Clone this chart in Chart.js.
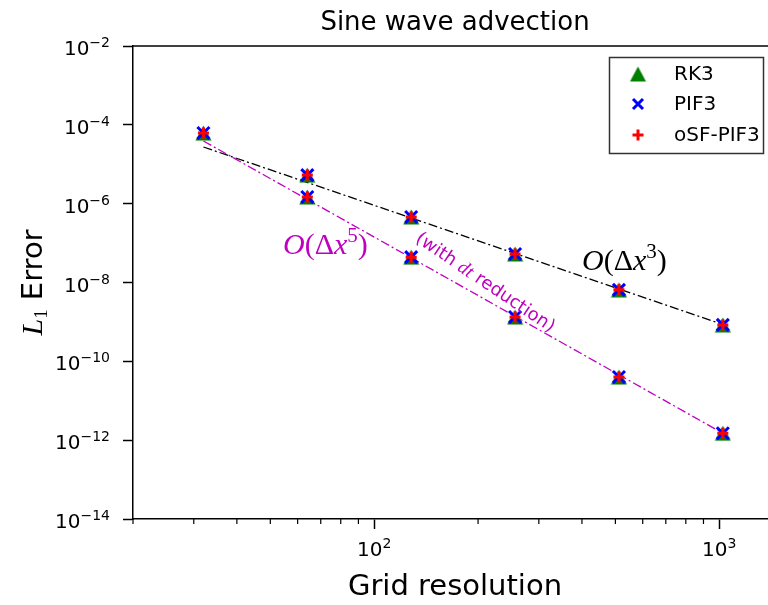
<!DOCTYPE html>
<html>
<head>
<meta charset="utf-8">
<script src="https://cdn.jsdelivr.net/npm/chart.js@4.4.0/dist/chart.umd.min.js"></script>
<style>
    html, body { margin: 0; padding: 0; background: #fff; overflow: hidden; }
    #wrap { width: 768px; height: 605px; overflow: hidden; position: relative; }
    #myChart { display: block; }
</style>
</head>
<body>
<div id="wrap"><canvas id="myChart" width="778" height="605"></canvas></div>
<script>
// grid sizes and L1 errors
const gridSizes = [32, 64, 128, 256, 512, 1024];
const gridReduced = [64, 128, 256, 512, 1024];

// without dt reduction (3rd order branch)
const rk3Plain  = [6.2e-5, 5.3e-6, 4.6e-7, 5.3e-8, 6.5e-9, 8.4e-10];
const pif3Plain = [6.2e-5, 5.3e-6, 4.6e-7, 5.3e-8, 6.5e-9, 8.4e-10];
const osfPlain  = [6.2e-5, 5.3e-6, 4.6e-7, 5.3e-8, 6.5e-9, 8.4e-10];

// with dt reduction (5th order branch)
const rk3Reduced  = [1.48e-6, 4.4e-8, 1.33e-9, 4.0e-11, 1.5e-12];
const pif3Reduced = [1.48e-6, 4.4e-8, 1.33e-9, 4.0e-11, 1.5e-12];
const osfReduced  = [1.48e-6, 4.4e-8, 1.33e-9, 4.0e-11, 1.5e-12];

// reference slope lines
const refX = [32, 1024];
const refOrder3 = [2.74e-5, 8.6e-10];
const refOrder5 = [3.9e-5, 1.5e-12];

const xMajorTicks = [100, 1000];
const xMinorTicks = [20, 30, 40, 50, 60, 70, 80, 90, 200, 300, 400, 500, 600, 700, 800, 900];
const yTickValues = [1e-2, 1e-4, 1e-6, 1e-8, 1e-10, 1e-12, 1e-14];

const toPts = (xs, ys) => xs.map((x, i) => ({ x: x, y: ys[i] }));

function triangleMarker() {
    const c = document.createElement('canvas');
    c.width = 17;
    c.height = 16;
    const g = c.getContext('2d');
    g.fillStyle = '#008000';
    g.beginPath();
    g.moveTo(8.5, 0.5);
    g.lineTo(16.5, 15.5);
    g.lineTo(0.5, 15.5);
    g.closePath();
    g.fill();
    return c;
}
const tri = triangleMarker();

// draws a list of text pieces one after another
function drawParts(g, x, y, parts, align) {
    let w = 0;
    parts.forEach(p => { g.font = p.font; p.w = g.measureText(p.text).width; w += p.w; });
    let cx = x;
    if (align === 'center') cx = x - w / 2;
    if (align === 'right') cx = x - w;
    g.textAlign = 'left';
    parts.forEach(p => {
        g.font = p.font;
        g.fillText(p.text, cx, y + (p.dy || 0));
        cx += p.w;
    });
}

function powParts(v) {
    const e = Math.round(Math.log10(v));
    const exp = (e < 0 ? '\u2212' : '') + Math.abs(e);
    return [
        { text: '10', font: '20px "DejaVu Sans"' },
        { text: exp, font: '14px "DejaVu Sans"', dy: -8 }
    ];
}

const framePlugin = {
    id: 'frame',
    afterDraw(chart) {
        const g = chart.ctx, a = chart.chartArea;
        const xs = chart.scales.x, ys = chart.scales.y;
        g.save();
        g.strokeStyle = '#000';
        g.fillStyle = '#000';
        g.textBaseline = 'alphabetic';

        // top spine
        g.lineWidth = 1.5;
        g.beginPath();
        g.moveTo(a.left, a.top);
        g.lineTo(a.right, a.top);
        g.stroke();

        // minor x ticks
        g.lineWidth = 1.2;
        xMinorTicks.forEach(v => {
            const px = xs.getPixelForValue(v);
            g.beginPath();
            g.moveTo(px, a.bottom);
            g.lineTo(px, a.bottom + 5);
            g.stroke();
        });

        // tick labels
        yTickValues.forEach(v => {
            drawParts(g, 110, ys.getPixelForValue(v) + 9, powParts(v), 'right');
        });
        xMajorTicks.forEach(v => {
            drawParts(g, xs.getPixelForValue(v), 556, powParts(v), 'center');
        });

        // title and axis titles
        const midX = (a.left + a.right) / 2;
        g.textAlign = 'center';
        g.font = '26px "DejaVu Sans"';
        g.fillText('Sine wave advection', midX, 30);
        g.font = '29px "DejaVu Sans"';
        g.fillText('Grid resolution', midX, 595);

        g.save();
        g.translate(42, (a.top + a.bottom) / 2);
        g.rotate(-Math.PI / 2);
        drawParts(g, 0, 0, [
            { text: 'L', font: 'italic 30px "Liberation Serif"' },
            { text: '1', font: '19px "Liberation Serif"', dy: 5 },
            { text: ' Error', font: '29px "DejaVu Sans"' }
        ], 'center');
        g.restore();

        // slope annotations
        g.fillStyle = '#bf00bf';
        drawParts(g, 283, 254, [
            { text: 'O', font: 'italic 30px "Liberation Serif"' },
            { text: '(\u0394', font: '30px "Liberation Serif"' },
            { text: 'x', font: 'italic 30px "Liberation Serif"' },
            { text: '5', font: '21px "Liberation Serif"', dy: -12 },
            { text: ')', font: '30px "Liberation Serif"' }
        ], 'left');

        g.save();
        g.translate(485, 283);
        g.rotate(34 * Math.PI / 180);
        g.textBaseline = 'middle';
        drawParts(g, 0, 0, [
            { text: '(with ', font: '18px "DejaVu Sans"' },
            { text: 'dt', font: 'italic 19px "Liberation Serif"' },
            { text: ' reduction)', font: '18px "DejaVu Sans"' }
        ], 'center');
        g.restore();

        g.fillStyle = '#000';
        g.textBaseline = 'alphabetic';
        drawParts(g, 582, 270, [
            { text: 'O', font: 'italic 30px "Liberation Serif"' },
            { text: '(\u0394', font: '30px "Liberation Serif"' },
            { text: 'x', font: 'italic 30px "Liberation Serif"' },
            { text: '3', font: '21px "Liberation Serif"', dy: -12 },
            { text: ')', font: '30px "Liberation Serif"' }
        ], 'left');

        // legend
        g.fillStyle = '#fff';
        g.fillRect(609, 57, 154, 96);
        g.strokeStyle = '#333';
        g.lineWidth = 1.5;
        g.strokeRect(609.5, 57.5, 154, 96);
        const rows = [74, 104, 135];
        g.drawImage(tri, 638 - 8.5, rows[0] - 8);
        g.lineWidth = 3;
        g.strokeStyle = '#0000ff';
        g.beginPath();
        g.moveTo(633, rows[1] - 5); g.lineTo(643, rows[1] + 5);
        g.moveTo(633, rows[1] + 5); g.lineTo(643, rows[1] - 5);
        g.stroke();
        g.strokeStyle = '#ff0000';
        g.beginPath();
        g.moveTo(632.5, rows[2]); g.lineTo(643.5, rows[2]);
        g.moveTo(638, rows[2] - 5.5); g.lineTo(638, rows[2] + 5.5);
        g.stroke();
        g.fillStyle = '#000';
        g.textAlign = 'left';
        g.textBaseline = 'middle';
        g.font = '20px "DejaVu Sans"';
        ['RK3', 'PIF3', 'oSF-PIF3'].forEach((t, i) => g.fillText(t, 674, rows[i] + 1));

        g.restore();
    }
};

const ctx = document.getElementById('myChart').getContext('2d');
const chart = new Chart(ctx, {
    type: 'scatter',
    data: {
        datasets: [
            {
                label: 'O3',
                data: toPts(refX, refOrder3),
                showLine: true,
                borderColor: '#000',
                borderWidth: 1.3,
                borderDash: [9, 3, 2, 3],
                pointRadius: 0,
                order: 5
            },
            {
                label: 'O5',
                data: toPts(refX, refOrder5),
                showLine: true,
                borderColor: '#bf00bf',
                borderWidth: 1.3,
                borderDash: [9, 3, 2, 3],
                pointRadius: 0,
                order: 4
            },
            {
                label: 'RK3',
                data: toPts(gridSizes, rk3Plain).concat(toPts(gridReduced, rk3Reduced)),
                pointStyle: tri,
                pointRadius: 8,
                order: 3
            },
            {
                label: 'PIF3',
                data: toPts(gridSizes, pif3Plain).concat(toPts(gridReduced, pif3Reduced)),
                pointStyle: 'crossRot',
                pointRadius: 8.5,
                borderColor: '#0000ff',
                borderWidth: 3,
                order: 2
            },
            {
                label: 'oSF-PIF3',
                data: toPts(gridSizes, osfPlain).concat(toPts(gridReduced, osfReduced)),
                pointStyle: 'cross',
                pointRadius: 5.5,
                borderColor: '#ff0000',
                borderWidth: 3,
                order: 1
            }
        ]
    },
    options: {
        responsive: false,
        animation: false,
        layout: { autoPadding: false, padding: { top: 46, right: 1, left: 0, bottom: 0 } },
        plugins: {
            legend: { display: false },
            tooltip: { enabled: false }
        },
        scales: {
            x: {
                type: 'logarithmic',
                min: 20,
                max: 1470,
                afterBuildTicks: (s) => { s.ticks = xMajorTicks.map(v => ({ value: v })); },
                afterFit: (s) => { s.height = 86; },
                ticks: { display: false },
                grid: {
                    display: true,
                    drawOnChartArea: false,
                    drawTicks: true,
                    tickLength: 10,
                    tickWidth: 1.5,
                    tickColor: '#000'
                },
                border: { display: true, color: '#000', width: 1.5 }
            },
            y: {
                type: 'logarithmic',
                min: 1e-14,
                max: 1e-2,
                afterBuildTicks: (s) => { s.ticks = yTickValues.map(v => ({ value: v })); },
                afterFit: (s) => { s.width = 133; },
                ticks: { display: false },
                grid: {
                    display: true,
                    drawOnChartArea: false,
                    drawTicks: true,
                    tickLength: 10,
                    tickWidth: 1.5,
                    tickColor: '#000'
                },
                border: { display: true, color: '#000', width: 1.5 }
            }
        }
    },
    plugins: [framePlugin]
});
</script>
</body>
</html>
